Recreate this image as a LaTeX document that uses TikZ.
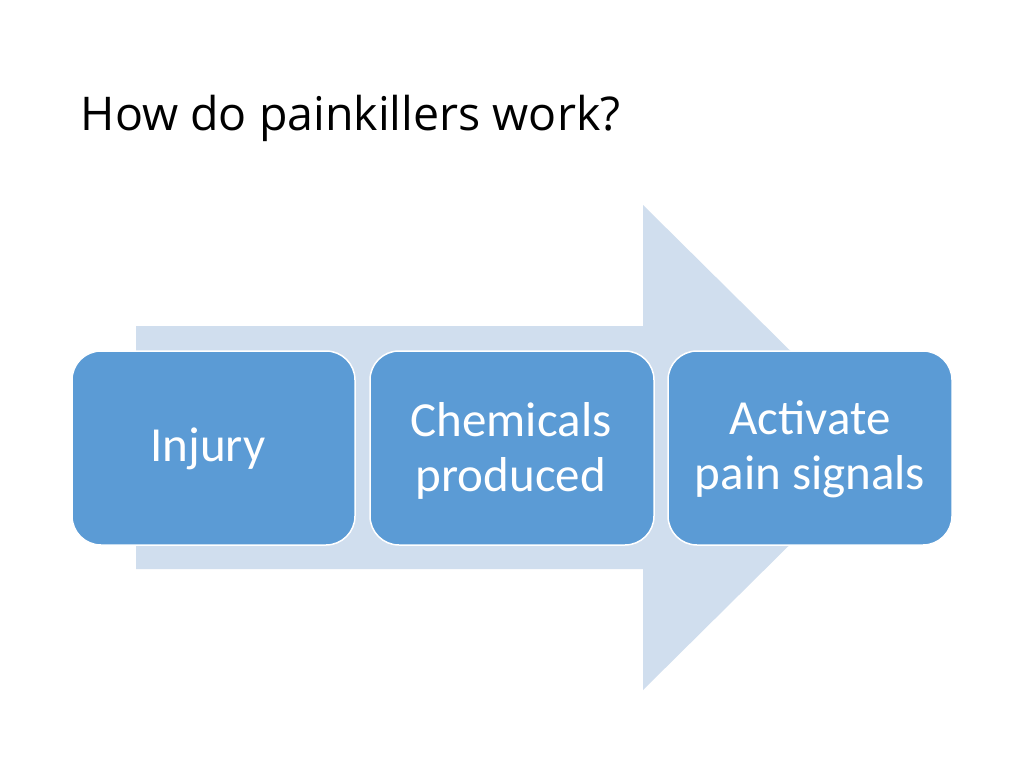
\documentclass[tikz,border=0pt]{standalone}
\usepackage{fontspec}
\setmainfont{Open Sans}
\newfontfamily\carlito{Carlito}
\definecolor{boxblue}{HTML}{5B9BD5}
\definecolor{arrowblue}{HTML}{D0DEEE}
\begin{document}
\begin{tikzpicture}[x=1pt,y=-1pt,
  stepbox/.style={draw=white,line width=1.5pt,fill=boxblue,rounded corners=29pt},
  boxtext/.style={text=white,font=\carlito\fontsize{49}{55}\selectfont,align=center,inner sep=0pt},
  titletext/.style={font=\fontsize{46.5}{56}\selectfont,anchor=base west,inner sep=0pt}]
\useasboundingbox (0,0) rectangle (1024,768);
\fill[white] (0,0) rectangle (1024,768);
% big arrow
\fill[arrowblue] (136,326) -- (643,326) -- (643,205) -- (888,447.5) -- (643,690) -- (643,569) -- (136,569) -- cycle;
% boxes
\draw[stepbox] (72,351) rectangle (355,545);
\draw[stepbox] (370,351) rectangle (654,545);
\draw[stepbox] (668,351) rectangle (952,545);
% texts
\node[titletext] (title) at (80.5,130) {How do painkillers work?};
\node[boxtext,anchor=base] (t1) at (208,461.7) {Injury};
\node[boxtext,anchor=base] (t2) at (511,491) {Chemicals\\produced};
\node[boxtext,anchor=base] (t3) at (810,489) {Activate\\pain signals};
\end{tikzpicture}
\end{document}
